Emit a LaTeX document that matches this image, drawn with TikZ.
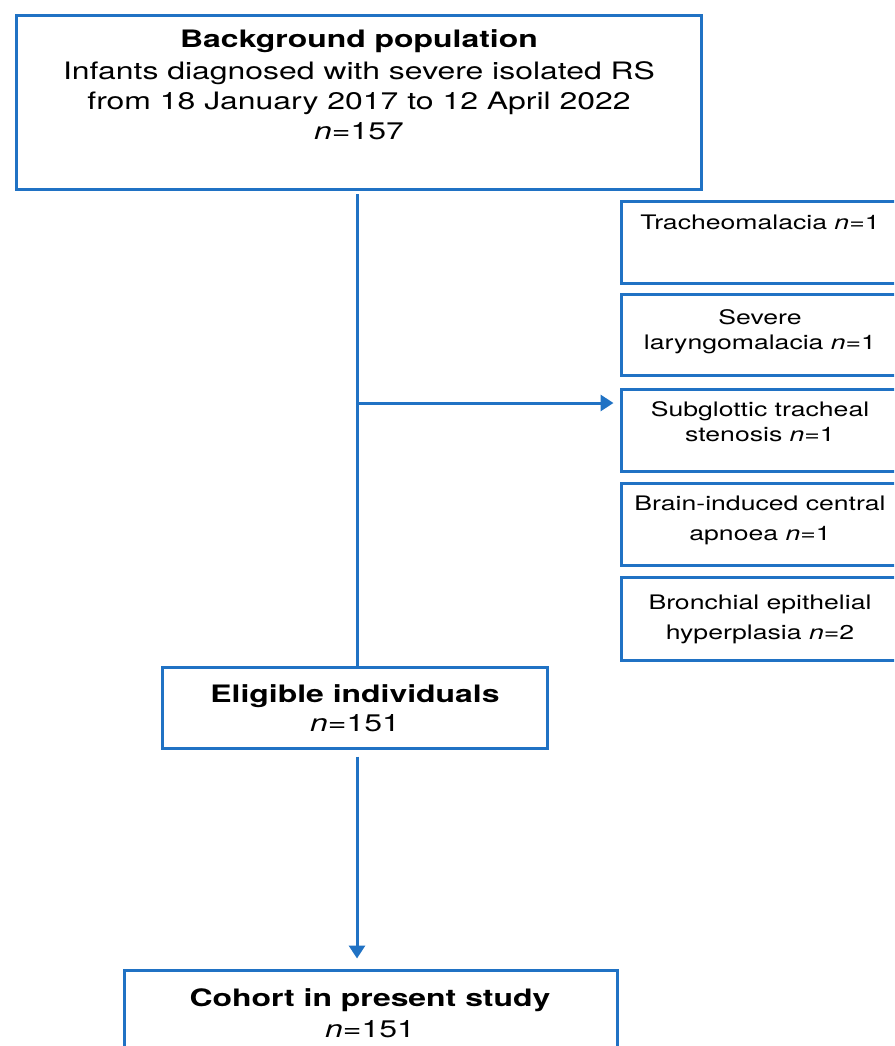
\documentclass[tikz,border=0pt]{standalone}
\usepackage{fontspec}
\setmainfont{TeX Gyre Heros}[FakeStretch=1.33]
\usetikzlibrary{arrows.meta}
\definecolor{flow}{RGB}{32,114,196}
\begin{document}
\begin{tikzpicture}[x=1pt,y=-1pt,
  box/.style={draw=flow,line width=3pt,inner sep=0pt,outer sep=0pt},
  conn/.style={draw=flow,line width=3pt},
  arr/.style={conn,-{Triangle[width=16pt,length=13pt]}},
  txt/.style={inner sep=0pt,align=center,anchor=north,font=\fontsize{24}{30}\selectfont},
  stxt/.style={inner sep=0pt,align=center,anchor=north}]
\path[use as bounding box,clip] (0,0) rectangle (894,1046);
\fill[white] (0,0) rectangle (894,1046);
% main boxes
\node[box,minimum width=684.5pt,minimum height=173pt] (top) at (358.75,102.5) {};
\node[box,minimum width=385pt,minimum height=81pt] (elig) at (355,708) {};
\node[box,minimum width=493pt,minimum height=110pt] (coh) at (370.5,1025.5) {};
% side boxes
\node[box,minimum width=276.5pt,minimum height=81.5pt] (b1) at (759.75,242.5) {};
\node[box,minimum width=276.5pt,minimum height=81pt] (b2) at (759.75,335) {};
\node[box,minimum width=276.5pt,minimum height=82pt] (b3) at (759.75,430) {};
\node[box,minimum width=276.5pt,minimum height=82pt] (b4) at (759.75,524) {};
\node[box,minimum width=276.5pt,minimum height=83pt] (b5) at (759.75,619) {};
% texts
\node[txt] (ttop) at (359,29.5) {\textbf{Background population}\\[2pt]
  Infants diagnosed with severe isolated RS\\
  from 18 January 2017 to 12 April 2022\\
  \textit{n}=157};
\node[txt,font=\fontsize{24}{29}\selectfont] (telig) at (355,684.5) {\textbf{Eligible individuals}\\\textit{n}=151};
\node[txt,font=\fontsize{24}{31}\selectfont] (tcoh) at (370,988) {\textbf{Cohort in present study}\\\textit{n}=151};
\node[stxt,font=\fontsize{20}{25}\selectfont] (t1) at (760,214.6) {Tracheomalacia \textit{n}=1};
\node[stxt,font=\fontsize{20}{25}\selectfont] (t2) at (760,309) {Severe\\laryngomalacia \textit{n}=1};
\node[stxt,font=\fontsize{20}{25}\selectfont] (t3) at (760,401) {Subglottic tracheal\\stenosis \textit{n}=1};
\node[stxt,font=\fontsize{20}{30}\selectfont] (t4) at (760,495.6) {Brain-induced central\\apnoea \textit{n}=1};
\node[stxt,font=\fontsize{20}{30}\selectfont] (t5) at (760,595) {Bronchial epithelial\\hyperplasia \textit{n}=2};
% connectors
\coordinate (spine) at (357,403);
\draw[conn] ([yshift=-5pt]spine |- top.south) -- (spine |- elig.north);
\draw[arr] (spine) -- ([xshift=-8pt]spine -| b3.west);
\draw[arr] ([yshift=-8pt]spine |- elig.south) -- ([yshift=12pt]spine |- coh.north);
\end{tikzpicture}
\end{document}
